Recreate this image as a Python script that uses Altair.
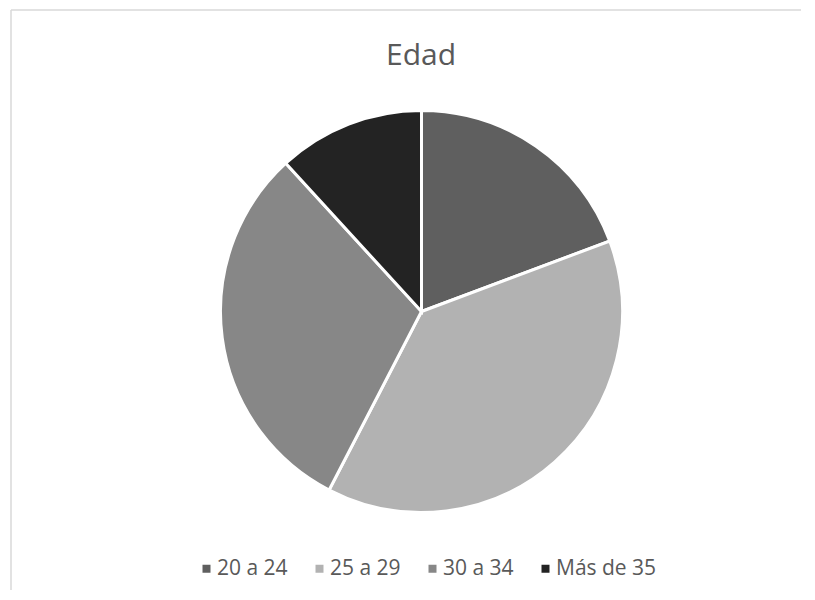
import altair as alt
import pandas as pd

categories = ["20 a 24", "25 a 29", "30 a 34", "Más de 35"]
values = [19.3, 38.3, 30.6, 11.8]
colors = ["#5f5f5f", "#b2b2b2", "#878787", "#232323"]
title_text = "Edad"

df = pd.DataFrame({"cat": categories, "val": values, "ord": list(range(len(categories)))})
one = pd.DataFrame({"t": [title_text]})

W, H = 790, 580

border_top = alt.Chart(one).mark_rule(color="#d9d9d9", strokeWidth=1.5).encode(
    x=alt.value(0), x2=alt.value(W), y=alt.value(0)
)
border_left = alt.Chart(one).mark_rule(color="#d9d9d9", strokeWidth=1.5).encode(
    x=alt.value(0), y=alt.value(0), y2=alt.value(H)
)

pie = alt.Chart(df).mark_arc(radius=201, stroke="white", strokeWidth=3).encode(
    theta=alt.Theta("val:Q", stack=True),
    color=alt.Color(
        "cat:N",
        scale=alt.Scale(domain=categories, range=colors),
        legend=alt.Legend(title=None),
    ),
    order=alt.Order("ord:Q"),
    x=alt.value(410.5),
    y=alt.value(301.5),
)

title = alt.Chart(one).mark_text(
    fontSize=30, font="Open Sans", color="#595959", baseline="alphabetic", align="center"
).encode(text="t:N", x=alt.value(410), y=alt.value(55))

chart = alt.layer(border_top, border_left, pie, title).properties(
    width=W, height=H, autosize=alt.AutoSizeParams(type="none"),
    padding={"left": 3, "top": 2, "right": 0, "bottom": 0},
).configure_view(stroke=None).configure_legend(
    orient="none", legendX=185, legendY=548, direction="horizontal",
    symbolType="square", symbolSize=64, symbolStrokeWidth=0,
    labelFontSize=21, labelFont="Open Sans", labelColor="#595959",
    columnPadding=21, labelOffset=0, padding=0,
)

chart.save("out.html", embed_options={"renderer": "svg", "actions": False})
